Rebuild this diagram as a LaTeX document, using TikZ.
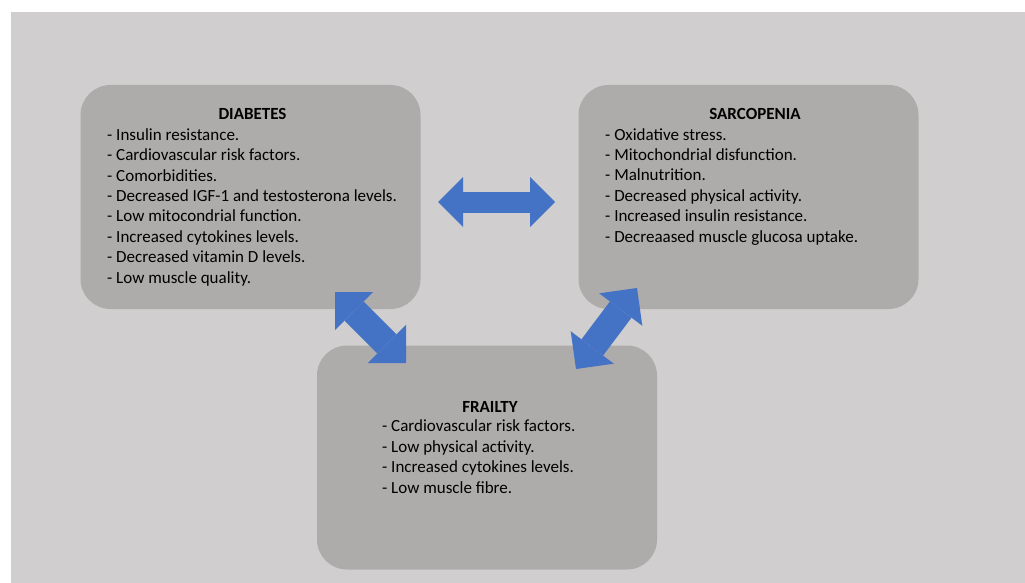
\documentclass[tikz,border=0pt]{standalone}
\usepackage{fontspec}
\setmainfont{Carlito}
\usepackage{tikz}
\usetikzlibrary{arrows.meta,positioning}
\definecolor{slidegray}{HTML}{D0CECE}
\definecolor{panelgray}{HTML}{AEABAB}
\definecolor{linkblue}{HTML}{4472C4}
\tikzset{
  panel/.style={
    fill=panelgray,
    rounded corners=30pt,
    minimum width=340pt,
    minimum height=224pt,
    inner sep=0pt
  },
  paneltitle/.style={
    font=\fontsize{17}{20.4}\selectfont\bfseries,
    anchor=base,
    inner sep=0pt
  },
  panellist/.style={
    font=\fontsize{17}{20.4}\selectfont,
    align=left,
    anchor=base west,
    inner sep=0pt
  },
  linkarrow/.style={
    draw=linkblue,
    line width=21pt,
    arrows={Triangle[length=25pt,width=50pt,line width=0pt]-Triangle[length=25pt,width=50pt,line width=0pt]}
  },
  slantarrow/.style={
    draw=linkblue,
    line width=27pt,
    arrows={Triangle[length=27pt,width=54pt,line width=0pt]-Triangle[length=27pt,width=54pt,line width=0pt]}
  }
}

\begin{document}
\begin{tikzpicture}[x=1pt,y=-1pt]
    \fill[white] (0,0) rectangle (1025,583);
    \useasboundingbox (0,0) rectangle (1025,583);
    \fill[slidegray] (11,12) rectangle (1025,583);

    \node[panel] (diabetes) at (250.5,197) {};
    \node[panel] (sarcopenia) at (748.5,197) {};
    \node[panel] (frailty) at (487,457.5) {};

    % lists sit on the baseline of their last line
    \node[paneltitle] (diabetes-title) at (252.5,120) {DIABETES};
    \node[panellist] (diabetes-list) at (107,283) {
        - Insulin resistance.\\
        - Cardiovascular risk factors.\\
        - Comorbidities.\\
        - Decreased IGF-1 and testosterona levels.\\
        - Low mitocondrial function.\\
        - Increased cytokines levels.\\
        - Decreased vitamin D levels.\\
        - Low muscle quality.
    };

    \node[paneltitle] (sarcopenia-title) at (755,120) {SARCOPENIA};
    \node[panellist] (sarcopenia-list) at (605,242) {
        - Oxidative stress.\\
        - Mitochondrial disfunction.\\
        - Malnutrition.\\
        - Decreased physical activity.\\
        - Increased insulin resistance.\\
        - Decreaased muscle glucosa uptake.
    };

    \node[paneltitle] (frailty-title) at (490,412) {FRAILTY};
    \node[panellist] (frailty-list) at (382,493) {
        - Cardiovascular risk factors.\\
        - Low physical activity.\\
        - Increased cytokines levels.\\
        - Low muscle fibre.
    };

    % arrow ends
    \coordinate (diabetes-east) at (438,202);
    \coordinate (sarcopenia-west) at (555,202);
    \coordinate (diabetes-south) at (335,292);
    \coordinate (frailty-northwest) at (406,363);
    \coordinate (frailty-northeast) at (576,369);
    \coordinate (sarcopenia-south) at (637,288);

    \draw[linkarrow] (diabetes-east) -- (sarcopenia-west);
    \draw[slantarrow] (diabetes-south) -- (frailty-northwest);
    \draw[slantarrow] (frailty-northeast) -- (sarcopenia-south);
\end{tikzpicture}
\end{document}
